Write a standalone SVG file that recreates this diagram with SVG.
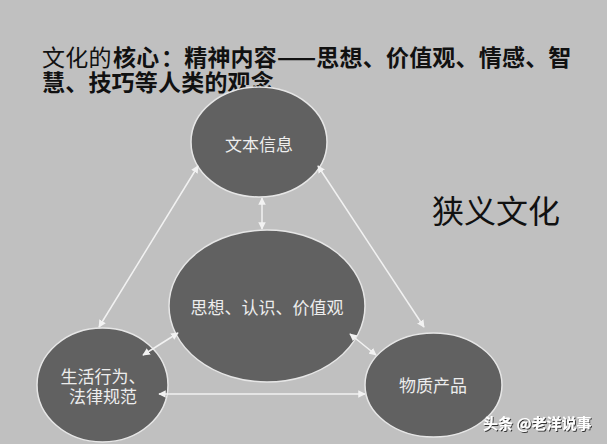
<svg xmlns="http://www.w3.org/2000/svg" width="607" height="444" viewBox="0 0 607 444">
<defs>
<style>
.node{fill:#616161;stroke:#e6e6e6;stroke-width:1.5}
.lbl{font-family:"Liberation Sans","Noto Sans CJK SC",sans-serif;font-size:17px;fill:#ededed;text-anchor:middle}
.title{font-family:"Noto Sans CJK SC",sans-serif;font-size:23px;fill:#111;letter-spacing:0.2px}
.conn line{stroke:#f2f2f2;stroke-width:1.5;fill:none;marker-start:url(#ah);marker-end:url(#ah)}
</style>
<marker id="ah" viewBox="0 0 10 10" refX="9" refY="5" markerWidth="5" markerHeight="5" orient="auto-start-reverse" markerUnits="strokeWidth">
<path d="M0,0 L10,5 L0,10 z" fill="#f2f2f2"/>
</marker>
<filter id="sh" x="-10%" y="-30%" width="130%" height="160%">
<feDropShadow dx="1" dy="1" stdDeviation="0.6" flood-color="#222" flood-opacity="0.9"/>
</filter>
</defs>
<rect x="0" y="0" width="607" height="444" fill="#c0c0c0"/>
<g id="title">
<text class="title" x="42" y="66">文化的</text>
<text class="title" x="113" y="66" font-weight="bold">核心</text>
<text class="title" x="161" y="66" font-weight="600">：精神内容——思想、价值观、情感、智</text>
<text class="title" x="42" y="91" font-weight="600">慧、技巧等人类的观念</text>
</g>
<g id="heading">
<text x="432" y="223" style="font-family:'Noto Sans CJK SC',sans-serif;font-size:32px;fill:#111">狭义文化</text>
</g>
<g id="node-text">
<ellipse class="node" cx="259" cy="142" rx="68" ry="55"/>
<text class="lbl" x="259" y="151">文本信息</text>
</g>
<g id="node-core">
<ellipse class="node" cx="267" cy="306" rx="98" ry="76"/>
<text class="lbl" x="267" y="314">思想、认识、价值观</text>
</g>
<g id="node-behavior">
<ellipse class="node" cx="102.5" cy="385" rx="65.5" ry="57"/>
<text class="lbl" x="103" y="383">生活行为、</text>
<text class="lbl" x="103" y="403">法律规范</text>
</g>
<g id="node-material">
<ellipse class="node" cx="433.5" cy="385" rx="68.5" ry="52"/>
<text class="lbl" x="433" y="392">物质产品</text>
</g>
<g id="connectors" class="conn">
<line x1="198" y1="166" x2="99" y2="327"/>
<line x1="318" y1="166" x2="424" y2="327"/>
<line x1="262" y1="198" x2="262" y2="229"/>
<line x1="178" y1="333" x2="143" y2="355"/>
<line x1="350" y1="334" x2="376" y2="355"/>
<line x1="159" y1="394" x2="365" y2="394"/>
</g>
<g id="watermark">
<text x="483" y="429" filter="url(#sh)" style="font-family:'Noto Sans CJK SC',sans-serif;font-size:15px;font-weight:bold;fill:#fff">头条 @老洋说事</text>
</g>
</svg>
